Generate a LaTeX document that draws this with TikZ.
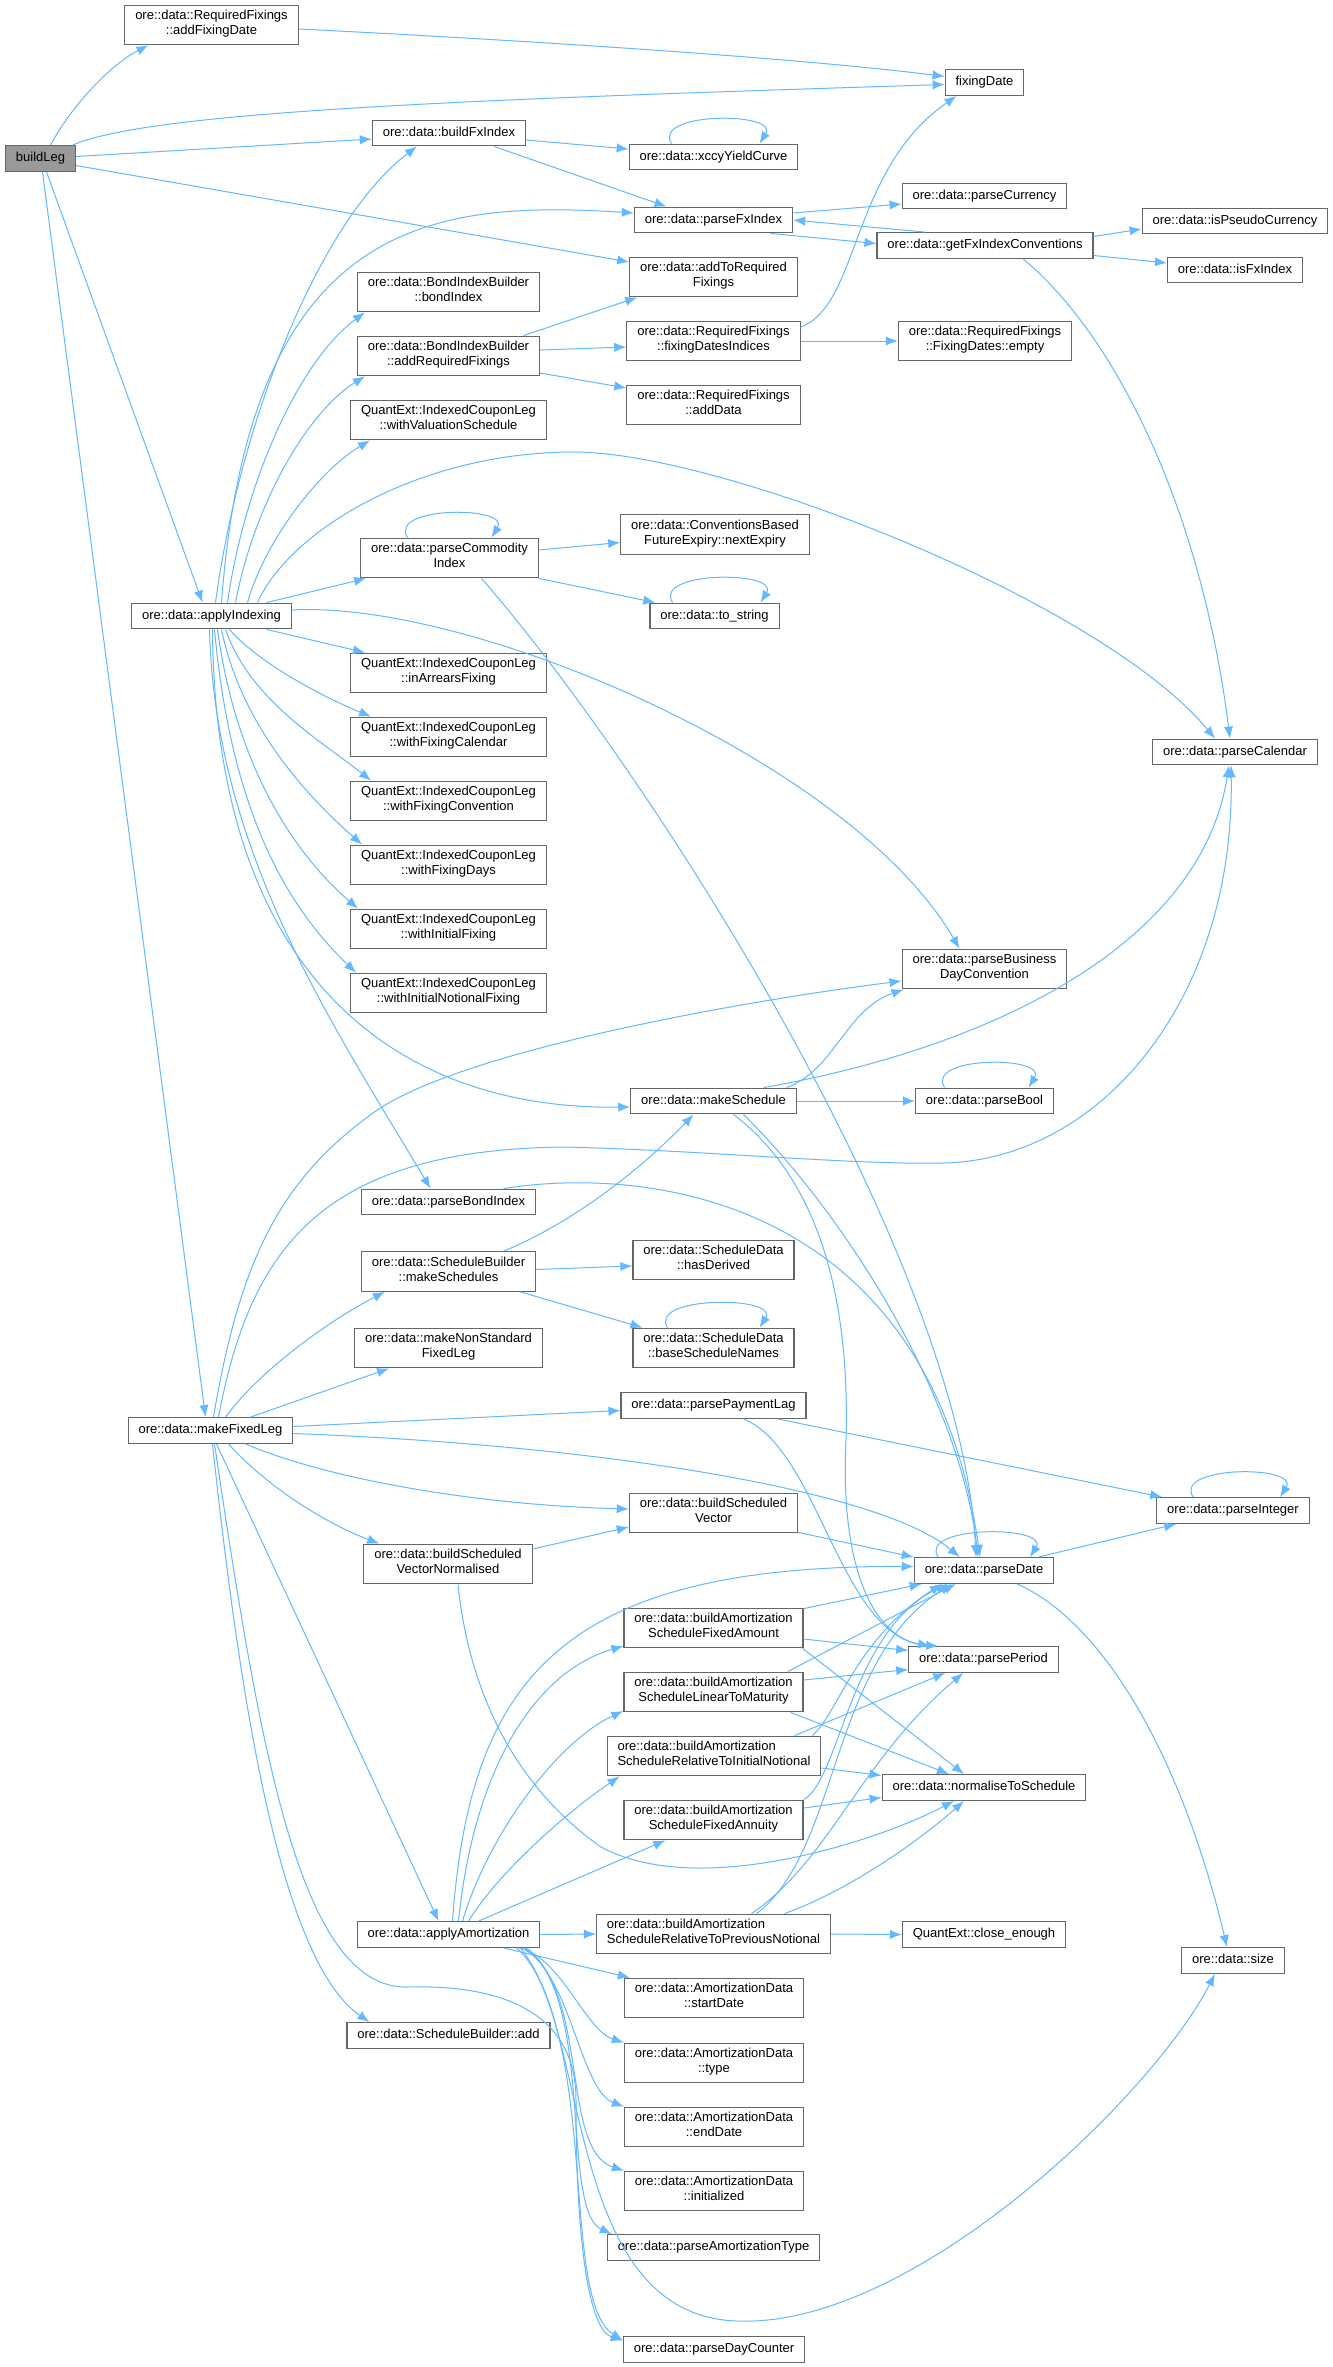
\documentclass[tikz,border=0pt]{standalone}
\usepackage{fontspec}
\setmainfont{Liberation Sans}
\usetikzlibrary{calc,arrows.meta}
\definecolor{edgeblue}{HTML}{63B8FF}
\definecolor{boxgray}{HTML}{666666}
\definecolor{rootgray}{HTML}{999999}
\tikzset{
  fn/.style={draw=boxgray, fill=white, line width=0.9pt, inner xsep=7.8pt, inner ysep=4pt,
    align=center, font=\fontsize{9.75}{11.25}\selectfont,
    execute at begin node=\strut, execute at end node=\strut},
  fnl/.style={fn, align=left},
  root/.style={fn, fill=rootgray},
  call/.style={draw=edgeblue, line width=0.75pt, -{Latex[length=9pt,width=7pt]}}
}
\begin{document}
\begin{tikzpicture}[x=0.75pt,y=-0.75pt]
\path[use as bounding box, fill=white] (0,0) rectangle (1332,2367);
\node[root] (bl) at (40.5,158.5) {buildLeg};
\node[fn] (afd) at (211.5,25) {ore::data::RequiredFixings\\::addFixingDate};
\node[fn] (fd) at (984.5,82.5) {fixingDate};
\node[fn] (bfx) at (449,133) {ore::data::buildFxIndex};
\node[fn] (xccy) at (713.5,157) {ore::data::xccyYieldCurve};
\node[fn] (pfx) at (713.5,220) {ore::data::parseFxIndex};
\node[fn] (pcur) at (984.5,196) {ore::data::parseCurrency};
\node[fn] (ispc) at (1235,221) {ore::data::isPseudoCurrency};
\node[fn] (gfxc) at (985,245.5) {ore::data::getFxIndexConventions};
\node[fn] (isfx) at (1235,270) {ore::data::isFxIndex};
\node[fn] (atrf) at (713.5,277) {ore::data::addToRequired\\Fixings};
\node[fn] (bib) at (448.5,292) {ore::data::BondIndexBuilder\\::bondIndex};
\node[fn] (arf) at (448.5,356) {ore::data::BondIndexBuilder\\::addRequiredFixings};
\node[fn] (fdi) at (713.5,341) {ore::data::RequiredFixings\\::fixingDatesIndices};
\node[fn] (fde) at (985,341) {ore::data::RequiredFixings\\::FixingDates::empty};
\node[fn] (ad) at (713.5,405) {ore::data::RequiredFixings\\::addData};
\node[fn] (wvs) at (448.5,420) {QuantExt::IndexedCouponLeg\\::withValuationSchedule};
\node[fn] (pci) at (449.5,558) {ore::data::parseCommodity\\Index};
\node[fn] (nex) at (715,534.5) {ore::data::ConventionsBased\\FutureExpiry::nextExpiry};
\node[fn] (tos) at (714.5,616) {ore::data::to\_string};
\node[fn] (ai) at (211.5,616) {ore::data::applyIndexing};
\node[fn] (iaf) at (448.5,673) {QuantExt::IndexedCouponLeg\\::inArrearsFixing};
\node[fn] (wfcal) at (448.5,737) {QuantExt::IndexedCouponLeg\\::withFixingCalendar};
\node[fn] (wfcon) at (448.5,801) {QuantExt::IndexedCouponLeg\\::withFixingConvention};
\node[fn] (wfd) at (448.5,865) {QuantExt::IndexedCouponLeg\\::withFixingDays};
\node[fn] (wif) at (448.5,929) {QuantExt::IndexedCouponLeg\\::withInitialFixing};
\node[fn] (winf) at (448.5,993) {QuantExt::IndexedCouponLeg\\::withInitialNotionalFixing};
\node[fn] (pcal) at (1235,752) {ore::data::parseCalendar};
\node[fn] (pbdc) at (984.5,969) {ore::data::parseBusiness\\DayConvention};
\node[fn] (ms) at (713.5,1101) {ore::data::makeSchedule};
\node[fn] (pbool) at (984.5,1101) {ore::data::parseBool};
\node[fn] (pbi) at (448.5,1202) {ore::data::parseBondIndex};
\node[fn] (mss) at (448.5,1271.5) {ore::data::ScheduleBuilder\\::makeSchedules};
\node[fn] (hd) at (713.5,1260) {ore::data::ScheduleData\\::hasDerived};
\node[fn] (bsn) at (713.5,1348) {ore::data::ScheduleData\\::baseScheduleNames};
\node[fn] (mnsfl) at (448.5,1348) {ore::data::makeNonStandard\\FixedLeg};
\node[fn] (mfl) at (210.5,1430.5) {ore::data::makeFixedLeg};
\node[fn] (ppl) at (713.5,1405.5) {ore::data::parsePaymentLag};
\node[fn] (pint) at (1233,1510.5) {ore::data::parseInteger};
\node[fn] (bsv) at (713.5,1513) {ore::data::buildScheduled\\Vector};
\node[fn] (bsvn) at (448,1564) {ore::data::buildScheduled\\VectorNormalised};
\node[fn] (pdate) at (984,1570.5) {ore::data::parseDate};
\node[fn] (bafa) at (713.5,1628) {ore::data::buildAmortization\\ScheduleFixedAmount};
\node[fn] (pper) at (983.5,1659.5) {ore::data::parsePeriod};
\node[fn] (baltm) at (713.5,1692) {ore::data::buildAmortization\\ScheduleLinearToMaturity};
\node[fnl] (barin) at (714,1756) {ore::data::buildAmortization\\ScheduleRelativeToInitialNotional};
\node[fn] (nts) at (984,1787.5) {ore::data::normaliseToSchedule};
\node[fn] (bafan) at (713.5,1820) {ore::data::buildAmortization\\ScheduleFixedAnnuity};
\node[fn] (aa) at (448.5,1934.5) {ore::data::applyAmortization};
\node[fnl] (barpn) at (713.5,1934) {ore::data::buildAmortization\\ScheduleRelativeToPreviousNotional};
\node[fn] (ce) at (984,1934.5) {QuantExt::close\_enough};
\node[fn] (sz) at (1233,1960.5) {ore::data::size};
\node[fn] (sd) at (714,1998) {ore::data::AmortizationData\\::startDate};
\node[fn] (sba) at (448.5,2035.5) {ore::data::ScheduleBuilder::add};
\node[fn] (ty) at (714,2063) {ore::data::AmortizationData\\::type};
\node[fn] (ed) at (714,2127) {ore::data::AmortizationData\\::endDate};
\node[fn] (ini) at (714,2191) {ore::data::AmortizationData\\::initialized};
\node[fn] (pat) at (713.5,2247.5) {ore::data::parseAmortizationType};
\node[fn] (pdc) at (714,2349.5) {ore::data::parseDayCounter};

\draw[call] ($(bl.north)+(10,0)$) .. controls (75,100) and (115,62) .. ($(afd.south)+(-63,0)$);
\draw[call] ($(bl.north)+(32,0)$) .. controls (150,112) and (450,100) .. ($(fd.west)+(0,2)$);
\draw[call] ($(bl.east)+(0,-2)$) -- ($(bfx.west)+(0,6)$);
\draw[call] ($(bl.east)+(0,7)$) -- ($(atrf.west)+(0,-15)$);
\draw[call] ($(bl.south)+(6,0)$) -- ($(ai.north)+(-9,0)$);
\draw[call] ($(bl.south)+(2,0)$) -- ($(mfl.north)+(-5,0)$);
\draw[call] ($(afd.east)+(0,4)$) .. controls (520,40) and (800,58) .. ($(fd.west)+(0,-6)$);
\draw[call] ($(bfx.east)+(0,7)$) -- ($(xccy.west)+(0,-8)$);
\draw[call] ($(bfx.south)+(45,0)$) -- ($(pfx.north)+(-47,0)$);
\draw[call] ($(xccy.north)+(-42,0)$) .. controls +(-20,-32) and +(20,-32) .. ($(xccy.north)+(46,0)$);
\draw[call] ($(pfx.east)+(0,-7)$) -- ($(pcur.west)+(0,8)$);
\draw[call] ($(pfx.south)+(57,0)$) -- ($(gfxc.west)+(0,-2)$);
\draw[call] ($(gfxc.north)+(-60,0)$) -- (pfx.east);
\draw[call] ($(gfxc.east)+(0,-9)$) -- ($(ispc.west)+(0,8)$);
\draw[call] ($(gfxc.east)+(0,10)$) -- ($(isfx.west)+(0,-7)$);
\draw[call] ($(gfxc.south)+(38,0)$) .. controls (1110,330) and (1200,500) .. ($(pcal.north)+(-5,0)$);

\draw[call] ($(ai.north)+(4,0)$) .. controls (240,420) and (320,220) .. ($(bfx.south)+(-32,0)$);
\draw[call] ($(ai.north)+(10,0)$) .. controls (250,220) and (430,200) .. ($(pfx.west)+(0,-7)$);
\draw[call] ($(ai.north)+(16,0)$) .. controls (245,480) and (300,360) .. ($(bib.south west)+(8,0)$);
\draw[call] ($(ai.north)+(24,0)$) .. controls (255,500) and (310,410) .. ($(arf.south west)+(8,0)$);
\draw[call] ($(ai.north)+(36,0)$) .. controls (265,540) and (320,470) .. ($(wvs.south west)+(20,0)$);
\draw[call] ($(ai.north)+(46,0)$) .. controls (290,530) and (420,452) .. (574,452) .. controls (720,452) and (1100,600) .. ($(pcal.north)+(-20,0)$);
\draw[call] ($(ai.north)+(55,0)$) -- ($(pci.south west)+(6,0)$);
\draw[call] ($(ai.east)+(0,-6)$) .. controls (470,600) and (850,760) .. ($(pbdc.north)+(-25,0)$);
\draw[call] ($(ai.south)+(55,0)$) -- ($(iaf.north west)+(15,0)$);
\draw[call] ($(ai.south)+(18,0)$) .. controls (260,665) and (330,700) .. ($(wfcal.north west)+(21,0)$);
\draw[call] ($(ai.south)+(14,0)$) .. controls (250,700) and (320,740) .. ($(wfcon.north west)+(21,0)$);
\draw[call] ($(ai.south)+(10,0)$) .. controls (240,720) and (300,790) .. ($(wfd.north west)+(12,0)$);
\draw[call] ($(ai.south)+(6,0)$) .. controls (235,760) and (290,850) .. ($(wif.north west)+(8,0)$);
\draw[call] ($(ai.south)+(3,0)$) .. controls (230,800) and (280,900) .. ($(winf.north west)+(6,0)$);
\draw[call] ($(ai.south)+(1,0)$) .. controls (215,980) and (400,1110) .. ($(ms.west)+(0,6)$);
\draw[call] ($(ai.south)+(-2,0)$) .. controls (215,850) and (330,1020) .. ($(pbi.north)+(-18,0)$);

\draw[call] ($(pci.north)+(-42,0)$) .. controls +(-20,-32) and +(20,-32) .. ($(pci.north)+(42,0)$);
\draw[call] ($(pci.east)+(0,-8)$) -- ($(nex.west)+(0,8)$);
\draw[call] (pci.south east) -- ($(tos.north west)+(6,0)$);
\draw[call] ($(pci.south)+(32,0)$) .. controls (640,760) and (960,1250) .. ($(pdate.north)+(-8,0)$);
\draw[call] ($(tos.north)+(-42,0)$) .. controls +(-20,-32) and +(20,-32) .. ($(tos.north)+(46,0)$);

\draw[call] ($(arf.north)+(75,0)$) -- ($(atrf.south west)+(8,0)$);
\draw[call] ($(arf.east)+(0,-6)$) -- ($(fdi.west)+(0,6)$);
\draw[call] ($(arf.east)+(0,17)$) -- ($(ad.west)+(0,-17)$);
\draw[call] ($(fdi.east)+(0,-14)$) .. controls (860,305) and (850,170) .. ($(fd.south)+(-28,0)$);
\draw[call] (fdi.east) -- (fde.west);

\draw[call] ($(ms.north)+(73,0)$) .. controls (835,1070) and (845,1010) .. ($(pbdc.south west)+(2,0)$);
\draw[call] ($(ms.north)+(50,0)$) .. controls (980,1050) and (1200,950) .. ($(pcal.south)+(-6,0)$);
\draw[call] (ms.east) -- (pbool.west);
\draw[call] ($(ms.south)+(30,0)$) .. controls (850,1220) and (960,1400) .. ($(pdate.north)+(-6,0)$);
\draw[call] ($(ms.south)+(20,0)$) .. controls (820,1180) and (850,1300) .. (846,1440) .. controls (840,1560) and (870,1635) .. ($(pper.north west)+(22,0)$);
\draw[call] ($(pbool.north)+(-40,0)$) .. controls +(-20,-32) and +(20,-32) .. ($(pbool.north)+(44,0)$);
\draw[call] ($(pbi.north)+(55,0)$) .. controls (650,1165) and (930,1200) .. ($(pdate.north)+(-4,0)$);

\draw[call] ($(mss.north)+(55,0)$) .. controls (580,1220) and (650,1160) .. ($(ms.south)+(-20,0)$);
\draw[call] ($(mss.east)+(0,-2)$) -- ($(hd.west)+(0,6)$);
\draw[call] ($(mss.south)+(72,0)$) -- ($(bsn.north west)+(10,0)$);
\draw[call] ($(bsn.north)+(-46,0)$) .. controls +(-20,-32) and +(20,-32) .. ($(bsn.north)+(46,0)$);

\draw[call] ($(mfl.north)+(3,0)$) .. controls (240,1260) and (280,1180) .. (373,1113) .. controls (460,1050) and (750,1000) .. ($(pbdc.west)+(0,12)$);
\draw[call] ($(mfl.north)+(8,0)$) .. controls (250,1250) and (320,1150) .. (563,1147) .. controls (700,1150) and (850,1165) .. (943,1163) .. controls (1100,1160) and (1235,1000) .. ($(pcal.south)+(-4,0)$);
\draw[call] ($(mfl.north)+(15,0)$) .. controls (260,1370) and (330,1320) .. ($(mss.south west)+(24,0)$);
\draw[call] ($(mfl.north)+(40,0)$) -- ($(mnsfl.south west)+(35,0)$);
\draw[call] ($(mfl.east)+(0,-4)$) -- ($(ppl.west)+(0,5)$);
\draw[call] ($(mfl.east)+(0,3)$) .. controls (600,1445) and (880,1490) .. ($(pdate.north west)+(46,0)$);
\draw[call] ($(mfl.south)+(35,0)$) .. controls (330,1480) and (480,1505) .. ($(bsv.west)+(0,-4)$);
\draw[call] ($(mfl.south)+(18,0)$) .. controls (270,1490) and (330,1525) .. ($(bsvn.north west)+(16,0)$);
\draw[call] ($(mfl.south)+(6,0)$) -- ($(aa.north)+(-10,0)$);
\draw[call] ($(mfl.south)+(2,0)$) .. controls (240,1700) and (280,1960) .. ($(sba.north west)+(23,0)$);
\draw[call] ($(mfl.south)+(4,0)$) .. controls (260,1750) and (300,1990) .. (408,1987) .. controls (480,1985) and (576,2000) .. (576,2100) .. controls (576,2250) and (590,2330) .. ($(pdc.west)+(0,-9)$);

\draw[call] ($(ppl.south)+(64,0)$) -- ($(pint.north west)+(6,0)$);
\draw[call] ($(ppl.south)+(30,0)$) .. controls (820,1450) and (840,1640) .. ($(pper.north west)+(30,0)$);
\draw[call] ($(bsvn.east)+(0,-15)$) -- ($(bsv.west)+(0,14)$);
\draw[call] ($(bsvn.south)+(10,0)$) .. controls (470,1700) and (520,1790) .. (601,1847) .. controls (700,1900) and (880,1840) .. ($(nts.south)+(-30,0)$);
\draw[call] ($(bsv.south east)+(0,-1)$) -- (pdate.north west);
\draw[call] ($(pdate.north)+(-46,0)$) .. controls +(-20,-32) and +(20,-32) .. ($(pdate.north)+(46,0)$);
\draw[call] ($(pdate.north east)+(-16,0)$) -- ($(pint.south west)+(20,0)$);
\draw[call] ($(pdate.south)+(33,0)$) .. controls (1100,1620) and (1180,1750) .. ($(sz.north)+(-6,0)$);
\draw[call] ($(pint.north)+(-40,0)$) .. controls +(-20,-32) and +(20,-32) .. ($(pint.north)+(47,0)$);

\draw[call] ($(bafa.north east)+(0,1)$) -- ($(pdate.south west)+(8,0)$);
\draw[call] ($(bafa.east)+(0,11)$) -- ($(pper.west)+(0,-9)$);
\draw[call] ($(bafa.south east)+(-1,0)$) -- ($(nts.north)+(-20,0)$);
\draw[call] ($(baltm.north east)+(-16,0)$) -- ($(pdate.south west)+(42,0)$);
\draw[call] ($(baltm.east)+(0,-12)$) -- ($(pper.west)+(0,10)$);
\draw[call] ($(baltm.south east)+(-13,0)$) -- ($(nts.north)+(-35,0)$);
\draw[call] ($(barin.north east)+(-9,0)$) .. controls (840,1710) and (855,1640) .. ($(pdate.south west)+(28,0)$);
\draw[call] ($(barin.north east)+(-27,0)$) -- ($(pper.south west)+(37,0)$);
\draw[call] ($(barin.east)+(0,12)$) -- ($(nts.west)+(0,-12)$);
\draw[call] (bafan.north east) .. controls (840,1780) and (850,1630) .. ($(pdate.south west)+(34,0)$);
\draw[call] ($(bafan.east)+(0,-12)$) -- ($(nts.west)+(0,10)$);
\draw[call] (barpn.east) -- (ce.west);
\draw[call] ($(barpn.north)+(71,0)$) .. controls (850,1890) and (920,1840) .. ($(nts.south)+(-20,0)$);
\draw[call] ($(barpn.north)+(43,0)$) .. controls (840,1850) and (830,1660) .. ($(pdate.south west)+(38,0)$);
\draw[call] ($(barpn.north)+(38,0)$) .. controls (830,1860) and (860,1760) .. ($(pper.south west)+(55,0)$);

\draw[call] (aa.east) -- (barpn.west);
\draw[call] ($(aa.north)+(4,0)$) .. controls (470,1680) and (560,1565) .. ($(pdate.west)+(0,-4)$);
\draw[call] ($(aa.north)+(10,0)$) .. controls (475,1760) and (540,1670) .. ($(bafa.west)+(0,18)$);
\draw[call] ($(aa.north)+(14,0)$) .. controls (490,1830) and (560,1740) .. ($(baltm.west)+(0,19)$);
\draw[call] ($(aa.north)+(20,0)$) .. controls (500,1870) and (570,1810) .. ($(barin.south west)+(13,0)$);
\draw[call] ($(aa.north)+(30,0)$) -- ($(bafan.south west)+(42,0)$);
\draw[call] ($(aa.south)+(55,0)$) -- ($(sd.north west)+(6,0)$);
\draw[call] ($(aa.south)+(70,0)$) .. controls (560,1955) and (585,2030) .. (ty.north west);
\draw[call] ($(aa.south)+(73,0)$) .. controls (570,1970) and (580,2090) .. (ed.north west);
\draw[call] ($(aa.south)+(76,0)$) .. controls (590,1990) and (560,2150) .. (ini.north west);
\draw[call] ($(aa.south)+(78,0)$) .. controls (595,2000) and (560,2210) .. ($(pat.north west)+(5,0)$);
\draw[call] ($(aa.south)+(72,0)$) .. controls (600,2050) and (560,2300) .. ($(pdc.west)+(0,-9)$);
\draw[call] ($(aa.south)+(68,0)$) .. controls (590,2010) and (560,2300) .. (724,2320) .. controls (900,2340) and (1150,2100) .. ($(sz.south)+(-18,0)$);
\end{tikzpicture}
\end{document}
